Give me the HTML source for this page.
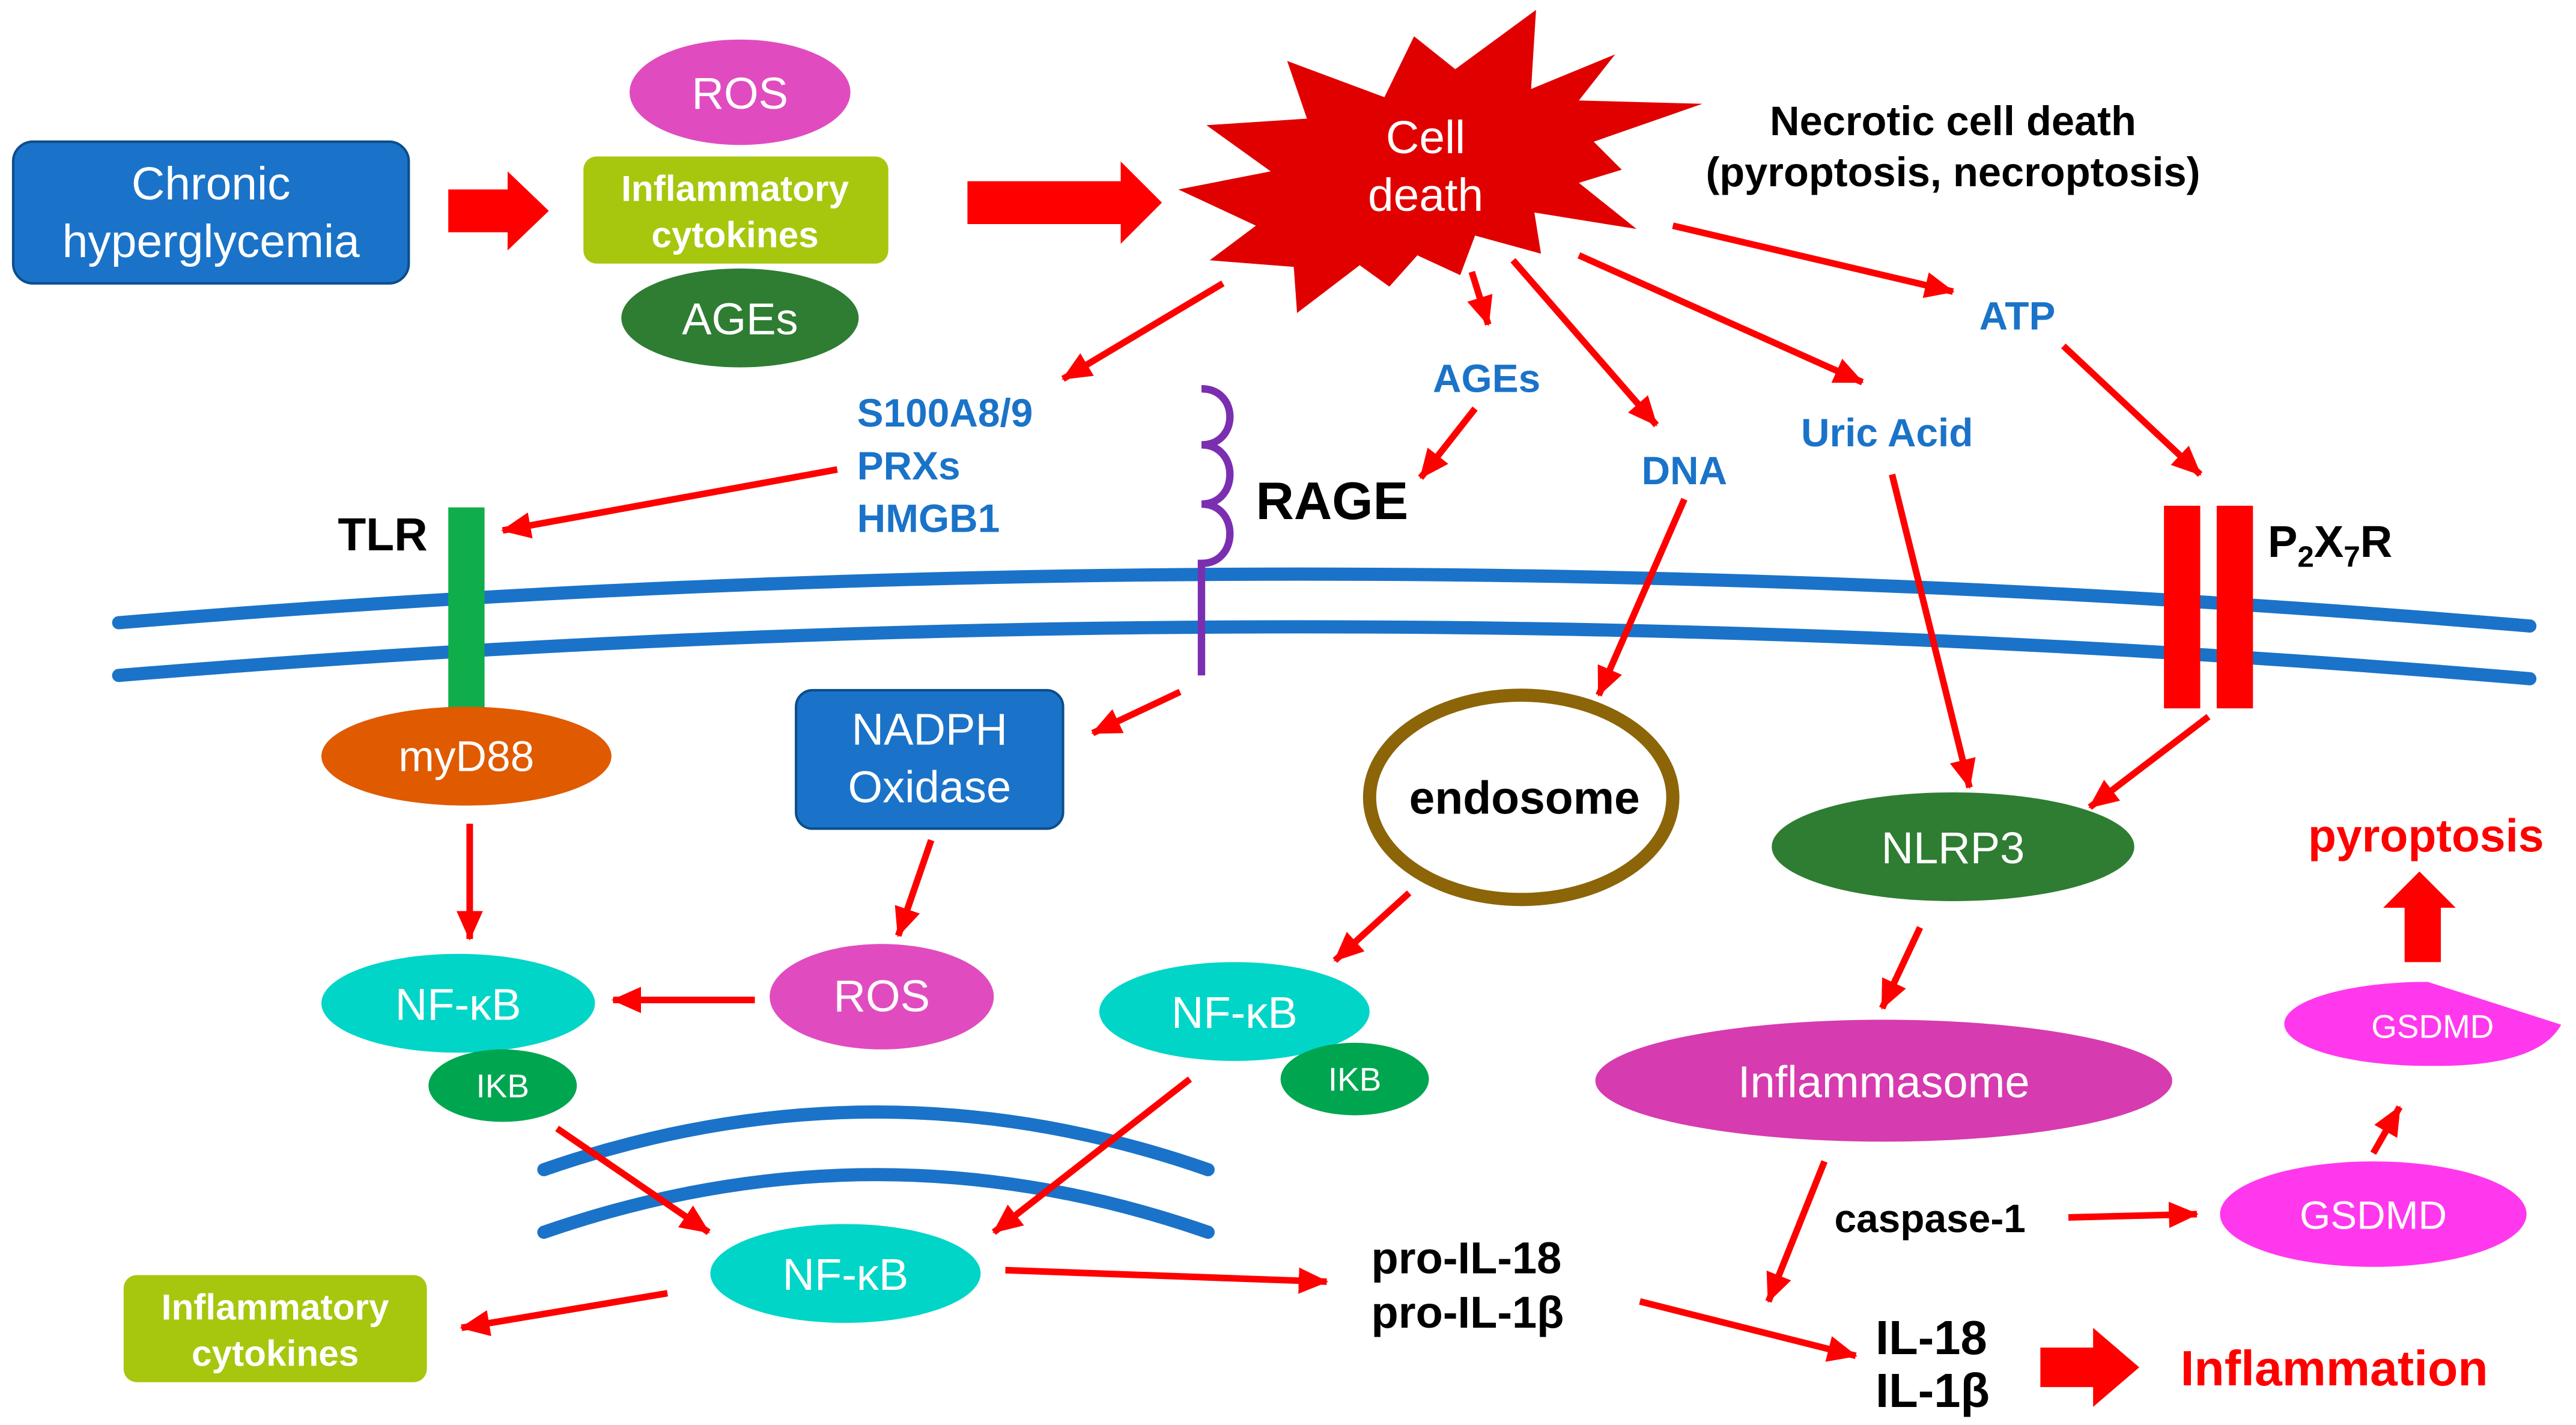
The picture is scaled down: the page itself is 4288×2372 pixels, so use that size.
<!DOCTYPE html>
<html><head><meta charset="utf-8"><style>
html,body{margin:0;padding:0;background:#fff;}
svg{display:block;}
text{font-family:"Liberation Sans","Noto Sans CJK JP",sans-serif;}
</style></head><body>
<svg width="4288" height="2372" viewBox="0 0 1563 865" preserveAspectRatio="none" xmlns="http://www.w3.org/2000/svg">
<defs>
<marker id="ah" markerUnits="userSpaceOnUse" markerWidth="20" markerHeight="18" refX="17" refY="9" orient="auto">
<path d="M0,1 L18,9 L0,17 Z" fill="#ff0000"/>
</marker>
</defs>
<rect width="1563" height="865" fill="#fff"/>

<!-- top left -->
<rect x="8" y="86" width="240" height="86" rx="12" fill="#1a73c8" stroke="#0d4d8c" stroke-width="1.5"/>
<text x="128" y="121" font-size="28" fill="#fff" text-anchor="middle">Chronic</text>
<text x="128" y="156" font-size="28" fill="#fff" text-anchor="middle">hyperglycemia</text>
<path d="M272,115 L308,115 L308,104 L333,128 L308,152 L308,141 L272,141 Z" fill="#ff0000"/>
<ellipse cx="449" cy="56" rx="67" ry="32" fill="#e04cc0"/>
<text x="449" y="66" font-size="27" fill="#fff" text-anchor="middle">ROS</text>
<rect x="354" y="95" width="185" height="65" rx="8" fill="#a6c70d"/>
<text x="446" y="122" font-size="22" font-weight="bold" fill="#fff" text-anchor="middle">Inflammatory</text>
<text x="446" y="150" font-size="22" font-weight="bold" fill="#fff" text-anchor="middle">cytokines</text>
<ellipse cx="449" cy="193" rx="72" ry="30" fill="#2e7d32"/>
<text x="449" y="203" font-size="27" fill="#fff" text-anchor="middle">AGEs</text>
<path d="M587,110 L680,110 L680,98 L705,123 L680,148 L680,136 L587,136 Z" fill="#ff0000"/>

<!-- starburst -->
<path d="M932,6 L883,42 L858,22 L840,59 L781,37 L793,72 L732,76 L771,104 L715,115 L762,137 L734,158 L785,162 L787,190 L825,161 L843,174 L860,155 L886,167 L895,143 L935,154 L931,129 L993,139 L958,111 L984,103 L967,86 L1033,63 L958,61 L980,33 L929,54 Z" fill="#e00000"/>
<text x="865" y="93" font-size="28" fill="#fff" text-anchor="middle">Cell</text>
<text x="865" y="128" font-size="28" fill="#fff" text-anchor="middle">death</text>
<text x="1185" y="82" font-size="25" font-weight="bold" fill="#000" text-anchor="middle">Necrotic cell death</text>
<text x="1185" y="113" font-size="25" font-weight="bold" fill="#000" text-anchor="middle">(pyroptosis, necroptosis)</text>

<!-- blue labels -->
<g font-size="24" font-weight="bold" fill="#1a73c8">
<text x="520" y="259">S100A8/9</text>
<text x="520" y="291">PRXs</text>
<text x="520" y="323">HMGB1</text>
<text x="902" y="238" text-anchor="middle">AGEs</text>
<text x="1022" y="294" text-anchor="middle">DNA</text>
<text x="1145" y="271" text-anchor="middle">Uric Acid</text>
<text x="1224" y="200" text-anchor="middle">ATP</text>
</g>

<!-- membrane -->
<g fill="none" stroke="#1a73c8" stroke-width="8" stroke-linecap="round">
<path d="M72,378 Q800,318 1535,380"/>
<path d="M72,410 Q800,350 1535,412"/>
</g>

<!-- TLR -->
<text x="205" y="334" font-size="28" font-weight="bold" fill="#000">TLR</text>
<rect x="272" y="308" width="22" height="122" fill="#0fae4a"/>
<!-- RAGE -->
<path d="M729,236 C752,236 752,270 729,270 C752,270 752,306 729,306 C752,306 752,342 729,342 L729,410" fill="none" stroke="#7b2fb0" stroke-width="4.5"/>
<text x="762" y="315" font-size="32" font-weight="bold" fill="#000">RAGE</text>
<!-- P2X7R -->
<rect x="1313" y="307" width="22" height="123" fill="#ff0000"/>
<rect x="1345" y="307" width="22" height="123" fill="#ff0000"/>
<text x="1376" y="338" font-size="27" font-weight="bold" fill="#000">P<tspan font-size="18" dy="6">2</tspan><tspan dy="-6">X</tspan><tspan font-size="18" dy="6">7</tspan><tspan dy="-6">R</tspan></text>

<!-- nodes -->
<ellipse cx="283" cy="459" rx="88" ry="30" fill="#e05a00"/>
<text x="283" y="468" font-size="26" fill="#fff" text-anchor="middle">myD88</text>
<rect x="483" y="419" width="162" height="84" rx="10" fill="#1a73c8" stroke="#0d4d8c" stroke-width="1.5"/>
<text x="564" y="452" font-size="27" fill="#fff" text-anchor="middle">NADPH</text>
<text x="564" y="487" font-size="27" fill="#fff" text-anchor="middle">Oxidase</text>
<ellipse cx="923" cy="484" rx="92" ry="62" fill="#fff" stroke="#8b6508" stroke-width="8"/>
<text x="925" y="494" font-size="28" font-weight="bold" fill="#000" text-anchor="middle">endosome</text>
<ellipse cx="1185" cy="514" rx="110" ry="33" fill="#2e7d32"/>
<text x="1185" y="524" font-size="27" fill="#fff" text-anchor="middle">NLRP3</text>
<text x="1472" y="517" font-size="28" font-weight="bold" fill="#ff0000" text-anchor="middle">pyroptosis</text>
<path d="M1468,529 L1490,551 L1481,551 L1481,584 L1459,584 L1459,551 L1446,551 Z" fill="#ff0000"/>
<path d="M1473,596 L1554,622 Q1540,648 1473,647 A87,25.5 0 0 1 1386,621.5 A87,25.5 0 0 1 1473,596 Z" fill="#ff38ee"/>
<text x="1476" y="630" font-size="20" fill="#fff" text-anchor="middle">GSDMD</text>
<ellipse cx="1440" cy="737" rx="93" ry="32" fill="#ff38ee"/>
<text x="1440" y="746" font-size="24" fill="#fff" text-anchor="middle">GSDMD</text>
<ellipse cx="1143" cy="656" rx="175" ry="37" fill="#d63bb0"/>
<text x="1143" y="666" font-size="27" fill="#fff" text-anchor="middle">Inflammasome</text>

<ellipse cx="278" cy="609" rx="83" ry="30" fill="#00d5c8"/>
<text x="278" y="619" font-size="27" fill="#fff" text-anchor="middle">NF-κB</text>
<ellipse cx="305" cy="659" rx="45" ry="22" fill="#00a550"/>
<text x="305" y="666" font-size="20" fill="#fff" text-anchor="middle">IKB</text>
<ellipse cx="535" cy="605" rx="68" ry="32" fill="#e04cc0"/>
<text x="535" y="614" font-size="27" fill="#fff" text-anchor="middle">ROS</text>
<ellipse cx="749" cy="614" rx="82" ry="30" fill="#00d5c8"/>
<text x="749" y="624" font-size="27" fill="#fff" text-anchor="middle">NF-κB</text>
<ellipse cx="822" cy="655" rx="45" ry="22" fill="#00a550"/>
<text x="822" y="662" font-size="20" fill="#fff" text-anchor="middle">IKB</text>

<!-- nucleus -->
<g fill="none" stroke="#1a73c8" stroke-width="8" stroke-linecap="round">
<path d="M330,710 Q532,640 733,710"/>
<path d="M330,748 Q532,678 733,748"/>
</g>
<ellipse cx="513" cy="773" rx="82" ry="30" fill="#00d5c8"/>
<text x="513" y="783" font-size="27" fill="#fff" text-anchor="middle">NF-κB</text>
<rect x="75" y="774" width="184" height="65" rx="8" fill="#a6c70d"/>
<text x="167" y="801" font-size="22" font-weight="bold" fill="#fff" text-anchor="middle">Inflammatory</text>
<text x="167" y="829" font-size="22" font-weight="bold" fill="#fff" text-anchor="middle">cytokines</text>

<g font-weight="bold" fill="#000">
<text x="832" y="773" font-size="27">pro-IL-18</text>
<text x="832" y="806" font-size="27">pro-IL-1β</text>
<text x="1113" y="748" font-size="24">caspase-1</text>
<text x="1138" y="822" font-size="29">IL-18</text>
<text x="1138" y="854" font-size="29">IL-1β</text>
</g>
<path d="M1238,818 L1270,818 L1270,806 L1298,830 L1270,854 L1270,842 L1238,842 Z" fill="#ff0000"/>
<text x="1323" y="841" font-size="30" font-weight="bold" fill="#ff0000">Inflammation</text>

<!-- arrows -->
<g stroke="#ff0000" stroke-width="4" fill="none" marker-end="url(#ah)">
<line x1="742" y1="172" x2="645" y2="230"/>
<line x1="893" y1="165" x2="903" y2="197"/>
<line x1="918" y1="158" x2="1005" y2="258"/>
<line x1="958" y1="155" x2="1130" y2="232"/>
<line x1="1015" y1="137" x2="1185" y2="177"/>
<line x1="508" y1="285" x2="305" y2="322"/>
<line x1="895" y1="248" x2="862" y2="290"/>
<line x1="1022" y1="303" x2="970" y2="422"/>
<line x1="1148" y1="288" x2="1195" y2="478"/>
<line x1="1252" y1="210" x2="1335" y2="288"/>
<line x1="716" y1="420" x2="663" y2="445"/>
<line x1="1340" y1="435" x2="1268" y2="490"/>
<line x1="285" y1="500" x2="285" y2="570"/>
<line x1="565" y1="510" x2="545" y2="568"/>
<line x1="458" y1="607" x2="372" y2="607"/>
<line x1="855" y1="542" x2="810" y2="583"/>
<line x1="1165" y1="563" x2="1142" y2="612"/>
<line x1="338" y1="685" x2="430" y2="748"/>
<line x1="722" y1="655" x2="603" y2="748"/>
<line x1="405" y1="785" x2="280" y2="806"/>
<line x1="610" y1="771" x2="805" y2="778"/>
<line x1="1107" y1="705" x2="1073" y2="790"/>
<line x1="995" y1="790" x2="1126" y2="823"/>
<line x1="1255" y1="739" x2="1333" y2="737"/>
<line x1="1440" y1="700" x2="1456" y2="672"/>
</g>
</svg>
</body></html>
